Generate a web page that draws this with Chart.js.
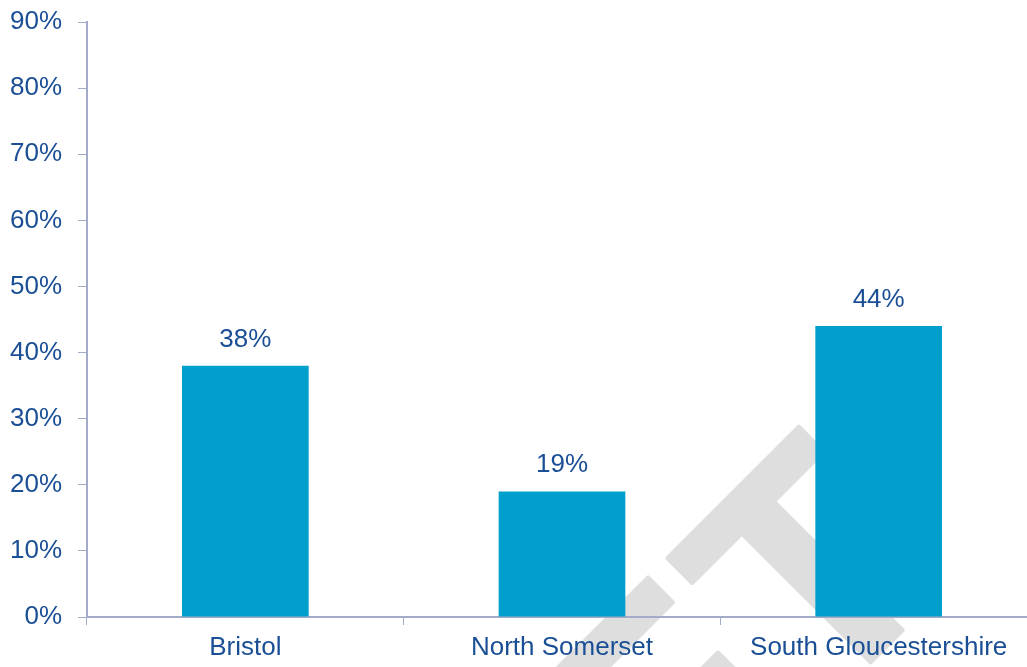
<!DOCTYPE html>
<html>
<head>
<meta charset="utf-8">
<script src="https://cdn.jsdelivr.net/npm/chart.js@4/dist/chart.umd.min.js"></script>
<style>
    html, body { margin: 0; padding: 0; background: #ffffff; overflow: hidden; }
    canvas { display: block; }
</style>
</head>
<body>
<canvas id="shareChart" width="1040" height="667"></canvas>
<script>
const areas = ['Bristol', 'North Somerset', 'South Gloucestershire'];
const shares = [38, 19, 44];
const yTicks = [0, 10, 20, 30, 40, 50, 60, 70, 80, 90];

const fontFamily = '"Liberation Sans", Arial, Helvetica, sans-serif';
const textColor = '#1a4f96';
const axisColor = '#a3abc9';
const barColor = '#009fcc';
const stampColor = '#dedede';

// big grey "DRAFT" stamp behind everything
const draftStamp = {
    id: 'draftStamp',
    beforeDraw(chart) {
        const ctx = chart.ctx;
        ctx.save();
        ctx.translate(955, 578);
        ctx.rotate(-Math.PI / 4);
        ctx.font = 'bold 316px ' + fontFamily;
        ctx.textAlign = 'right';
        ctx.textBaseline = 'alphabetic';
        ctx.fillStyle = stampColor;
        ctx.strokeStyle = stampColor;
        ctx.lineWidth = 4;
        ctx.lineJoin = 'round';
        // the T is set apart a little from the rest of the word
        const tWidth = ctx.measureText('T').width;
        [['T', 0], ['DRAF', -tWidth - 12]].forEach(([s, x]) => {
            ctx.fillText(s, x, 0);
            ctx.strokeText(s, x, 0);
        });
        ctx.restore();
    }
};

// percentage written above each bar
const barValues = {
    id: 'barValues',
    afterDatasetsDraw(chart) {
        const ctx = chart.ctx;
        const meta = chart.getDatasetMeta(0);
        ctx.save();
        ctx.font = '26px ' + fontFamily;
        ctx.fillStyle = textColor;
        ctx.textAlign = 'center';
        ctx.textBaseline = 'alphabetic';
        meta.data.forEach((bar, i) => {
            ctx.fillText(shares[i] + '%', bar.x, bar.y - 19);
        });
        ctx.restore();
    }
};

var shareChart = new Chart(document.getElementById('shareChart'), {
    type: 'bar',
    data: {
        labels: areas,
        datasets: [{
            data: shares,
            backgroundColor: barColor,
            borderWidth: 0,
            categoryPercentage: 1.0,
            barPercentage: 0.4
        }]
    },
    options: {
        responsive: false,
        animation: false,
        layout: {
            padding: { left: 0, top: 22, right: 3, bottom: 0 }
        },
        plugins: {
            legend: { display: false },
            tooltip: { enabled: false }
        },
        scales: {
            x: {
                afterFit: axis => { axis.height = 50; },
                grid: {
                    offset: true,
                    drawOnChartArea: false,
                    drawTicks: true,
                    tickLength: 8,
                    color: axisColor
                },
                border: { color: axisColor, width: 2 },
                ticks: {
                    color: textColor,
                    font: { family: fontFamily, size: 26 },
                    padding: 7,
                    maxRotation: 0
                }
            },
            y: {
                min: 0,
                max: 90,
                afterBuildTicks: axis => {
                    axis.ticks = yTicks.map(v => ({ value: v }));
                },
                afterFit: axis => {
                    axis.width = 87;
                    axis.paddingTop = 0;
                    axis.paddingBottom = 0;
                },
                grid: {
                    drawOnChartArea: false,
                    drawTicks: true,
                    tickLength: 9,
                    color: axisColor
                },
                border: { color: axisColor, width: 2 },
                ticks: {
                    color: textColor,
                    font: { family: fontFamily, size: 26 },
                    padding: 16,
                    callback: v => v + '%'
                }
            }
        }
    },
    plugins: [draftStamp, barValues]
});
</script>
</body>
</html>
